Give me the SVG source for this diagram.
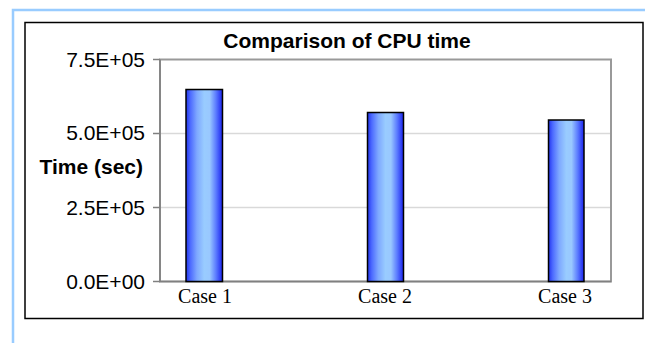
<svg xmlns="http://www.w3.org/2000/svg" width="645" height="343" viewBox="0 0 645 343">
<defs>
<linearGradient id="barGrad" x1="0" y1="0" x2="1" y2="0">
<stop offset="0" stop-color="#2233ee"/>
<stop offset="0.12" stop-color="#4d6bff"/>
<stop offset="0.3" stop-color="#7ea8ff"/>
<stop offset="0.5" stop-color="#99ccff"/>
<stop offset="0.65" stop-color="#99c8ff"/>
<stop offset="0.82" stop-color="#5c7cff"/>
<stop offset="1" stop-color="#1a22ee"/>
</linearGradient>
<style>
.ylab{font-family:"Liberation Sans",Arial,sans-serif;font-size:21px;fill:#000;text-anchor:end}
.xlab{font-family:"Liberation Serif","Times New Roman",serif;font-size:20px;fill:#000;text-anchor:middle}
.title{font-family:"Liberation Sans",Arial,sans-serif;font-size:21px;font-weight:bold;fill:#000;text-anchor:middle}
.grid{stroke:#d9d9d9;stroke-width:1.5}
.axis{stroke:#808080;stroke-width:1.5;fill:none}
.bar{fill:url(#barGrad);stroke:#000;stroke-width:1.5}
</style>
</defs>
<rect width="645" height="343" fill="#fff"/>
<path d="M13 343 V10 H645" fill="none" stroke="#99ccff" stroke-width="2.5"/>
<rect x="25" y="22.5" width="618" height="296" fill="#fff" stroke="#000" stroke-width="1.5"/>
<g id="title"><text class="title" x="347" y="48">Comparison of CPU time</text></g>
<g id="plot">
<rect x="160" y="59.5" width="451" height="222" fill="#fff" stroke="#999" stroke-width="2"/>
<line class="grid" x1="161" y1="133.5" x2="610" y2="133.5"/>
<line class="grid" x1="161" y1="207.5" x2="610" y2="207.5"/>
<path class="axis" d="M160 59.5 V281.5 H611"/>
<path class="axis" d="M153 59.5 H160 M153 133.5 H160 M153 207.5 H160 M153 281.5 H160"/>
</g>
<g id="yaxis">
<text class="ylab" x="145" y="67">7.5E+05</text>
<text class="ylab" x="145" y="140">5.0E+05</text>
<text class="ylab" x="145" y="215">2.5E+05</text>
<text class="ylab" x="145" y="289">0.0E+00</text>
<text x="143" y="174" style="font-family:'Liberation Sans',Arial,sans-serif;font-size:21px;font-weight:bold;text-anchor:end">Time (sec)</text>
</g>
<g id="case1">
<rect class="bar" x="186" y="89.5" width="36.5" height="192"/>
<text class="xlab" x="205" y="303">Case 1</text>
</g>
<g id="case2">
<rect class="bar" x="367.5" y="112.5" width="36" height="169"/>
<text class="xlab" x="385" y="303">Case 2</text>
</g>
<g id="case3">
<rect class="bar" x="548.5" y="120" width="35.5" height="161.5"/>
<text class="xlab" x="565" y="303">Case 3</text>
</g>
<g id="connectors"/>
</svg>
